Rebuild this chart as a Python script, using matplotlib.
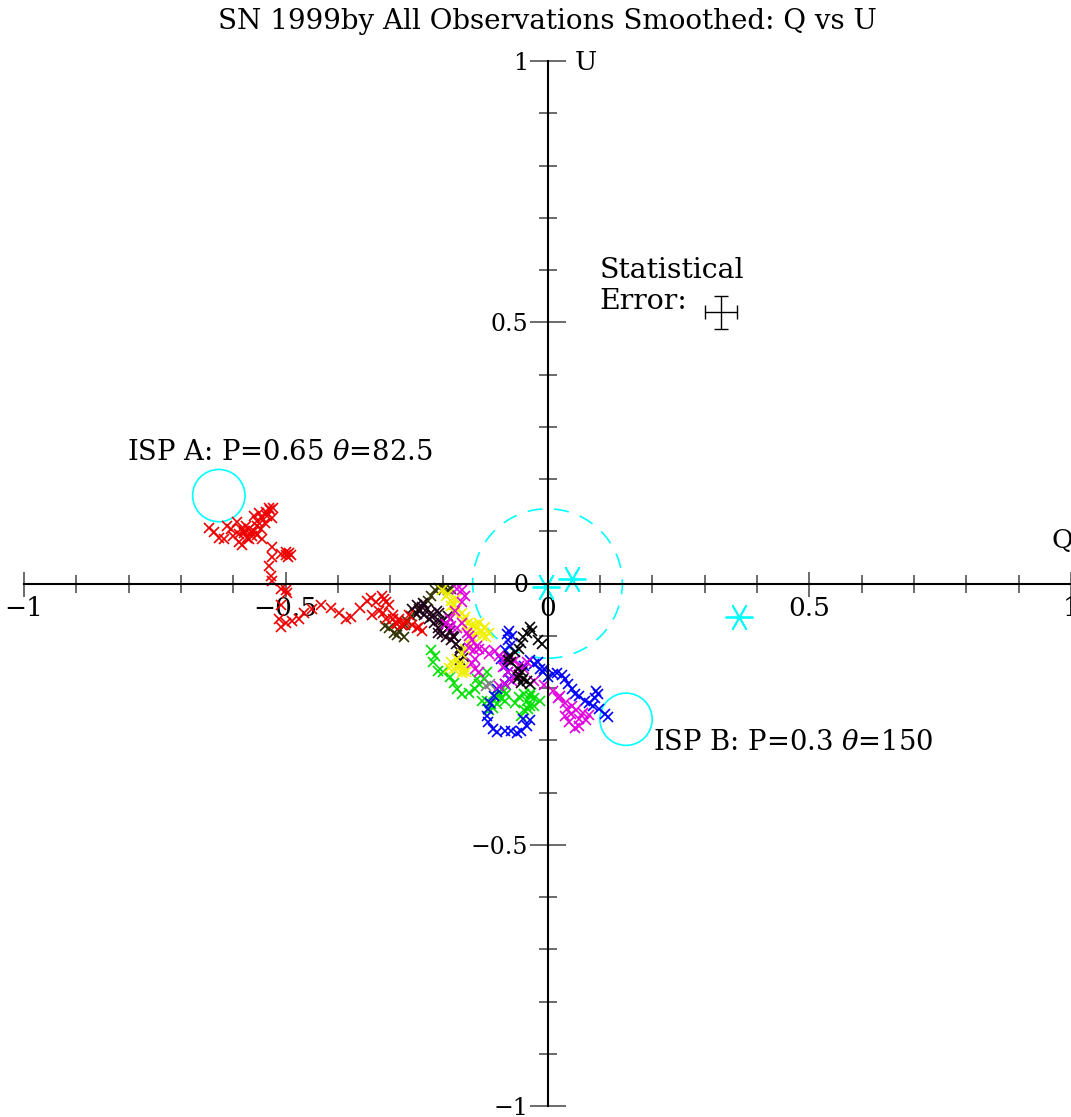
import numpy as np
import matplotlib.pyplot as plt
from matplotlib.patches import Circle
from matplotlib.ticker import MultipleLocator

plt.rcParams['font.family'] = ['DejaVu Serif']
plt.rcParams['mathtext.fontset'] = 'dejavuserif'

# smoothed Q/U tracks, one list per observation set
red_q = [-0.646, -0.637, -0.627, -0.618, -0.612, -0.604, -0.593, -0.585, -0.579, -0.574,
         -0.566, -0.583, -0.589, -0.560, -0.551, -0.545, -0.537, -0.532, -0.526, -0.547,
         -0.554, -0.545, -0.58, -0.575, -0.57, -0.565, -0.56, -0.555, -0.59, -0.60,
         -0.57, -0.555, -0.54, -0.535, -0.53, -0.525,
         -0.526, -0.526, -0.509, -0.499, -0.493, -0.50, -0.49, -0.495,
         -0.532, -0.528, -0.526, -0.509, -0.499, -0.497, -0.509, -0.512, -0.509, -0.499,
         -0.488, -0.474, -0.465, -0.449, -0.432, -0.413, -0.398, -0.384, -0.375, -0.359,
         -0.344, -0.337, -0.327, -0.317, -0.308, -0.321, -0.335, -0.308, -0.296, -0.287,
         -0.277, -0.312, -0.302, -0.315, -0.296, -0.283, -0.270, -0.258, -0.250, -0.245,
         -0.239, -0.264, -0.277, -0.289]
red_u = [0.107, 0.098, 0.088, 0.086, 0.111, 0.105, 0.117, 0.105, 0.096, 0.088,
         0.098, 0.073, 0.079, 0.130, 0.134, 0.125, 0.136, 0.144, 0.126, 0.105,
         0.092, 0.086, 0.10, 0.11, 0.105, 0.09, 0.10, 0.11, 0.095, 0.09,
         0.085, 0.12, 0.115, 0.13, 0.14, 0.145,
         0.069, 0.050, 0.057, 0.054, 0.059, 0.06, 0.055, 0.05,
         0.034, 0.015, 0.004, -0.010, -0.013, -0.019, -0.042, -0.067, -0.084, -0.075,
         -0.071, -0.067, -0.057, -0.048, -0.042, -0.046, -0.057, -0.067, -0.065, -0.046,
         -0.033, -0.027, -0.036, -0.023, -0.036, -0.052, -0.061, -0.067, -0.067, -0.077,
         -0.080, -0.029, -0.042, -0.056, -0.061, -0.067, -0.075, -0.080, -0.086, -0.084,
         -0.090, -0.061, -0.080, -0.075]

olive_q = [-0.184, -0.191, -0.197, -0.207, -0.214, -0.222, -0.229, -0.235, -0.245, -0.254,
           -0.260, -0.268, -0.273, -0.283, -0.293, -0.302, -0.310, -0.287, -0.275]
olive_u = [-0.011, -0.013, -0.010, -0.008, -0.013, -0.023, -0.033, -0.040, -0.048, -0.056,
           -0.063, -0.071, -0.080, -0.090, -0.094, -0.086, -0.082, -0.098, -0.102]

dark_q = [-0.258, -0.250, -0.245, -0.237, -0.231, -0.222, -0.212, -0.207, -0.226, -0.216,
          -0.210, -0.201, -0.193, -0.184, -0.178, -0.174, -0.168, -0.164, -0.168, -0.235,
          -0.249, -0.197, -0.187, -0.207, -0.191,
          -0.240, -0.220, -0.200, -0.190, -0.210, -0.180, -0.170, -0.160]
dark_u = [-0.048, -0.042, -0.052, -0.038, -0.048, -0.056, -0.052, -0.057, -0.067, -0.075,
          -0.086, -0.096, -0.103, -0.109, -0.103, -0.115, -0.123, -0.134, -0.147, -0.061,
          -0.059, -0.080, -0.090, -0.071, -0.063,
          -0.045, -0.065, -0.070, -0.085, -0.095, -0.100, -0.130, -0.140]

black_q = [-0.011, -0.019, -0.029, -0.034, -0.040, -0.046, -0.050, -0.054, -0.063, -0.073,
           -0.076, -0.069, -0.057, -0.054, -0.046, -0.040, -0.050, -0.057, -0.034, -0.048]
black_u = [-0.115, -0.109, -0.090, -0.084, -0.094, -0.102, -0.113, -0.125, -0.132, -0.138,
           -0.147, -0.151, -0.163, -0.176, -0.182, -0.186, -0.190, -0.180, -0.192, -0.170]

yellow_q = [-0.201, -0.193, -0.185, -0.178, -0.172, -0.164, -0.157, -0.151, -0.157, -0.149,
            -0.138, -0.130, -0.120, -0.111, -0.117, -0.126, -0.136, -0.145, -0.149, -0.157,
            -0.164, -0.172, -0.184, -0.189, -0.178, -0.168, -0.161, -0.164, -0.155, -0.176,
            -0.184, -0.190, -0.175, -0.160, -0.145, -0.135, -0.170, -0.160, -0.125]
yellow_u = [-0.013, -0.023, -0.033, -0.042, -0.048, -0.056, -0.065, -0.075, -0.084, -0.090,
            -0.079, -0.075, -0.084, -0.094, -0.103, -0.100, -0.096, -0.102, -0.115, -0.125,
            -0.134, -0.144, -0.151, -0.161, -0.163, -0.157, -0.167, -0.172, -0.170, -0.056,
            -0.044, -0.020, -0.030, -0.070, -0.080, -0.085, -0.155, -0.160, -0.090]

magenta_q = [-0.172, -0.164, -0.157, -0.164, -0.176, -0.187, -0.193, -0.184, -0.172, -0.163,
             -0.153, -0.145, -0.149, -0.140, -0.130, -0.119, -0.111, -0.138, -0.145, -0.138,
             -0.130, -0.092, -0.082, -0.073, -0.063, -0.054, -0.044, -0.040, -0.082, -0.092,
             -0.067, -0.025, -0.006, 0.010, 0.023, 0.033, 0.038, 0.033, 0.042, 0.052,
             0.061, 0.073, 0.080, 0.067, 0.055, 0.046,
             -0.150, -0.135, -0.100, -0.085, -0.075, 0.020, 0.045, 0.060, -0.060]
magenta_u = [-0.010, -0.013, -0.023, -0.036, -0.052, -0.067, -0.077, -0.082, -0.086, -0.075,
             -0.094, -0.109, -0.123, -0.128, -0.125, -0.128, -0.134, -0.144, -0.153, -0.163,
             -0.170, -0.138, -0.144, -0.142, -0.147, -0.157, -0.163, -0.151, -0.192, -0.197,
             -0.186, -0.186, -0.195, -0.205, -0.215, -0.228, -0.240, -0.253, -0.266, -0.276,
             -0.272, -0.262, -0.251, -0.247, -0.243, -0.234,
             -0.100, -0.120, -0.130, -0.160, -0.170, -0.220, -0.250, -0.260, -0.175]

green_q = [-0.222, -0.214, -0.218, -0.210, -0.199, -0.187, -0.178, -0.172, -0.163, -0.149,
           -0.138, -0.130, -0.122, -0.115, -0.134, -0.126, -0.115, -0.107, -0.098, -0.092,
           -0.086, -0.080, -0.088, -0.096, -0.105, -0.111, -0.082, -0.063, -0.054, -0.044,
           -0.034, -0.025, -0.015, -0.034, -0.044, -0.050, -0.038, -0.025, -0.031, -0.040,
           -0.092, -0.084]
green_u = [-0.128, -0.138, -0.151, -0.167, -0.170, -0.178, -0.190, -0.201, -0.211, -0.209,
           -0.201, -0.192, -0.182, -0.170, -0.182, -0.224, -0.224, -0.230, -0.218, -0.209,
           -0.201, -0.211, -0.220, -0.230, -0.238, -0.243, -0.224, -0.228, -0.218, -0.211,
           -0.215, -0.220, -0.224, -0.234, -0.243, -0.253, -0.240, -0.234, -0.209, -0.224,
           -0.215, -0.205]

blue_q = [-0.078, -0.073, -0.067, -0.076, -0.071, -0.082, -0.088, -0.082, -0.076, -0.073,
          -0.082, -0.096, -0.103, -0.109, -0.113, -0.115, -0.113, -0.105, -0.096, -0.082,
          -0.069, -0.059, -0.050, -0.040, -0.034, -0.046, -0.044, -0.034, -0.025, -0.015,
          -0.008, 0.000, 0.010, 0.019, 0.027, 0.034, 0.040, 0.046, 0.052, 0.061,
          0.071, 0.080, 0.090, 0.096, 0.092, 0.086, 0.099, 0.109, 0.115, -0.019,
          -0.006]
blue_u = [-0.096, -0.090, -0.100, -0.109, -0.119, -0.128, -0.144, -0.157, -0.170, -0.182,
          -0.193, -0.201, -0.215, -0.228, -0.240, -0.253, -0.266, -0.278, -0.285, -0.282,
          -0.282, -0.287, -0.282, -0.272, -0.262, -0.259, -0.157, -0.147, -0.155, -0.163,
          -0.170, -0.178, -0.174, -0.172, -0.176, -0.182, -0.192, -0.201, -0.211, -0.216,
          -0.224, -0.228, -0.220, -0.211, -0.205, -0.234, -0.240, -0.249, -0.255, -0.151,
          -0.163]

gray_q = [-0.117, -0.109]
gray_u = [-0.197, -0.192]

# ISP candidates (P, theta in degrees)
isp_names = ["ISP A", "ISP B"]
isp_p = [0.65, 0.3]
isp_theta = [82.5, 150]

star_q = [-0.003, 0.047, 0.365]
star_u = [-0.007, 0.008, -0.065]

err_q, err_u, err_size = 0.331, 0.519, 0.031

fig = plt.figure(figsize=(10.71, 11.17), dpi=100)
ax = fig.add_axes([24 / 1071, 11 / 1117, 1047 / 1071, 1045 / 1117])
ax.set_xlim(-1, 1)
ax.set_ylim(-1, 1)

for s in ['top', 'right']:
    ax.spines[s].set_visible(False)
for s in ['left', 'bottom']:
    ax.spines[s].set_position('zero')
    ax.spines[s].set_linewidth(1.5)

ax.xaxis.set_major_locator(MultipleLocator(0.5))
ax.xaxis.set_minor_locator(MultipleLocator(0.1))
ax.yaxis.set_major_locator(MultipleLocator(0.5))
ax.yaxis.set_minor_locator(MultipleLocator(0.1))
ax.tick_params(axis='x', which='major', direction='inout', length=18, width=1.1,
               labelsize=19, pad=0, color='#444444')
ax.tick_params(axis='x', which='minor', direction='inout', length=13, width=1.1,
               color='#444444')
ax.tick_params(axis='y', which='major', direction='inout', length=26, width=1.1,
               labelsize=17, pad=1, color='#444444')
ax.tick_params(axis='y', which='minor', direction='inout', length=13, width=1.1,
               color='#444444')
ax.xaxis.set_major_formatter(plt.FuncFormatter(lambda v, p: f"{v:g}".replace('-', '\u2212')))
ax.yaxis.set_major_formatter(plt.FuncFormatter(lambda v, p: f"{v:g}".replace('-', '\u2212')))

mk = dict(ls='none', marker='x', ms=7.5, mew=1.2)
ax.plot(olive_q, olive_u, color='#333300', **mk)
ax.plot(dark_q, dark_u, color='#1e0018', **mk)
ax.plot(green_q, green_u, color='#00e000', **mk)
ax.plot(blue_q, blue_u, color='#0000ff', **mk)
ax.plot(yellow_q, yellow_u, color='#f0f000', **mk)
ax.plot(magenta_q, magenta_u, color='#e000e0', **mk)
ax.plot(black_q, black_u, color='black', **mk)
ax.plot(gray_q, gray_u, color='#808080', **mk)
ax.plot(red_q, red_u, color='#ee0000', **mk)

# intrinsic zone
ax.add_patch(Circle((0, 0), 0.143, fill=False, ec='cyan', lw=1.2, ls=(0, (9, 7))))
ax.plot(star_q, star_u, ls='none', marker=(6, 2, 90), ms=20, mew=1.3, color='cyan')

for name, p, th, off in zip(isp_names, isp_p, isp_theta, [(-0.175, 0.083), (0.051, -0.045)]):
    q = p * np.cos(np.radians(2 * th))
    u = p * np.sin(np.radians(2 * th))
    ax.add_patch(Circle((q, u), 0.05, fill=False, ec='cyan', lw=1.2))
    ax.text(q + off[0], u + off[1], f"{name}: P={p:g} $\\theta$={th:g}",
            fontsize=19.7, ha='left', va='center')

ax.text(0.099, 0.600, "Statistical", fontsize=20.4, ha='left', va='center')
ax.text(0.099, 0.540, "Error:", fontsize=20.4, ha='left', va='center')
ax.errorbar([err_q], [err_u], xerr=err_size, yerr=err_size, fmt='none',
            ecolor='black', elinewidth=1.0, capsize=5, capthick=1.0)

ax.text(0.052, 0.998, "U", fontsize=19, ha='left', va='center')
ax.text(0.962, 0.082, "Q", fontsize=19, ha='left', va='center')
ax.text(0.0, 1.075, "SN 1999by All Observations Smoothed: Q vs U", fontsize=20,
        ha='center', va='center', clip_on=False)

fig.savefig("out.png", dpi=100)
